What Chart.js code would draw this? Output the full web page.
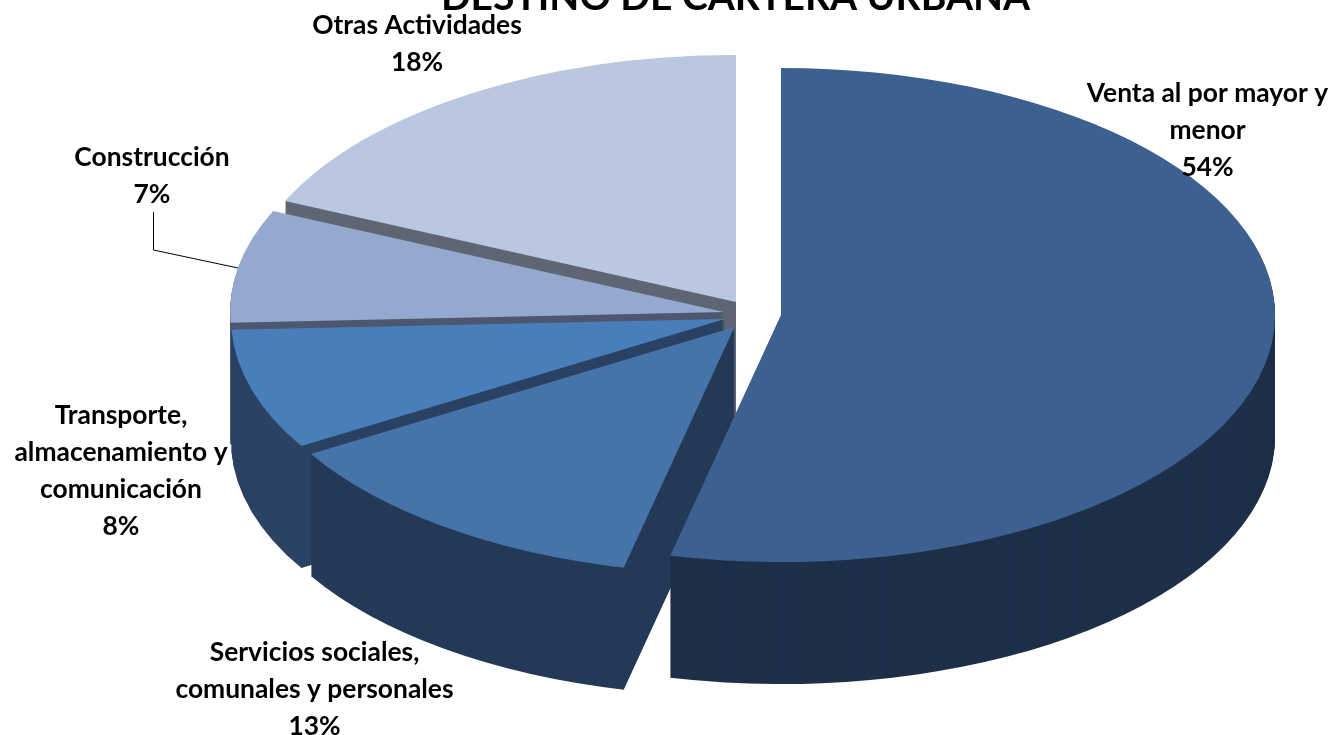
<!DOCTYPE html>
<html lang="es">
<head>
    <meta charset="UTF-8">
    <title>Destino de cartera urbana</title>
    <script src="https://cdn.jsdelivr.net/npm/chart.js"></script>
    <style>
        body { margin: 0; background: #fff; overflow: hidden; }
        canvas { display: block; }
    </style>
</head>
<body>
    <canvas id="pie" width="1338" height="735"></canvas>
    <script>
        const chartTitle = 'DESTINO DE CARTERA URBANA';
        const categories = [
            ['Venta al por mayor y', 'menor'],
            ['Servicios sociales,', 'comunales y personales'],
            ['Transporte,', 'almacenamiento y', 'comunicación'],
            ['Construcción'],
            ['Otras Actividades']
        ];
        const shares = [53.6, 12.8, 7.9, 7.4, 18.3];

        // colours: top face and side wall of every slice
        const topColors = ['#3c6090', '#4674a9', '#4a7ebb', '#95a9d0', '#b9c7e0'];
        const wallColors = ['#1e3049', '#243a58', '#2a4263', '#4d5870', '#5f6673'];

        // where each slice's tip ends up on the page (Excel's exploded 3D pie)
        const tips = [[781, 315], [734.5, 327], [725, 319], [724, 312], [736, 302]];
        const tilt = 0.5;
        const depth = 122;
        const drawOrder = [4, 3, 2, 1, 0];

        // centre x and first baseline of each label
        const labelPos = [[1207.5, 102], [314.5, 661], [121, 424], [152, 166], [417, 34]];
        const lineGap = 37;

        function drawSlice(ctx, arc, i, d, color) {
            const face = Object.create(arc);
            face.options = {
                backgroundColor: color, borderColor: color, borderWidth: 0,
                borderRadius: 0, borderAlign: 'center', offset: 0, spacing: 0, circular: true
            };
            ctx.save();
            ctx.translate(tips[i][0], tips[i][1] + d);
            ctx.scale(1, tilt);
            ctx.translate(-arc.x, -arc.y);
            face.draw(ctx);
            ctx.restore();
        }

        const tiltedPie = {
            id: 'tiltedPie',
            beforeDatasetsDraw(chart) {
                const ctx = chart.ctx;
                const arcs = chart.getDatasetMeta(0).data;
                drawOrder.forEach(i => {
                    for (let d = depth; d > 0; d--) drawSlice(ctx, arcs[i], i, d, wallColors[i]);
                    drawSlice(ctx, arcs[i], i, 0, topColors[i]);
                });
                return false;
            },
            afterDraw(chart) {
                const ctx = chart.ctx;
                ctx.save();
                ctx.fillStyle = '#000';
                ctx.textAlign = 'center';
                ctx.textBaseline = 'alphabetic';
                ctx.font = 'bold 39px Lato';
                ctx.fillText(chartTitle, 735.5, 10);
                ctx.font = 'bold 26.4px Lato';
                categories.forEach((lines, i) => {
                    const [x, y] = labelPos[i];
                    lines.concat(Math.round(shares[i]) + '%').forEach((text, n) => {
                        ctx.fillText(text, x, y + n * lineGap);
                    });
                });
                // leader line of Construcción
                ctx.strokeStyle = '#000';
                ctx.lineWidth = 1;
                ctx.beginPath();
                ctx.moveTo(153.5, 212);
                ctx.lineTo(153.5, 250);
                ctx.lineTo(238, 268);
                ctx.stroke();
                ctx.restore();
            }
        };

        new Chart(document.getElementById('pie'), {
            type: 'pie',
            data: {
                labels: categories.map(c => c.join(' ')),
                datasets: [{ data: shares, backgroundColor: topColors, borderWidth: 0 }]
            },
            options: {
                responsive: false,
                animation: false,
                radius: 494,
                plugins: { legend: { display: false }, tooltip: { enabled: false } }
            },
            plugins: [tiltedPie]
        });
    </script>
</body>
</html>
